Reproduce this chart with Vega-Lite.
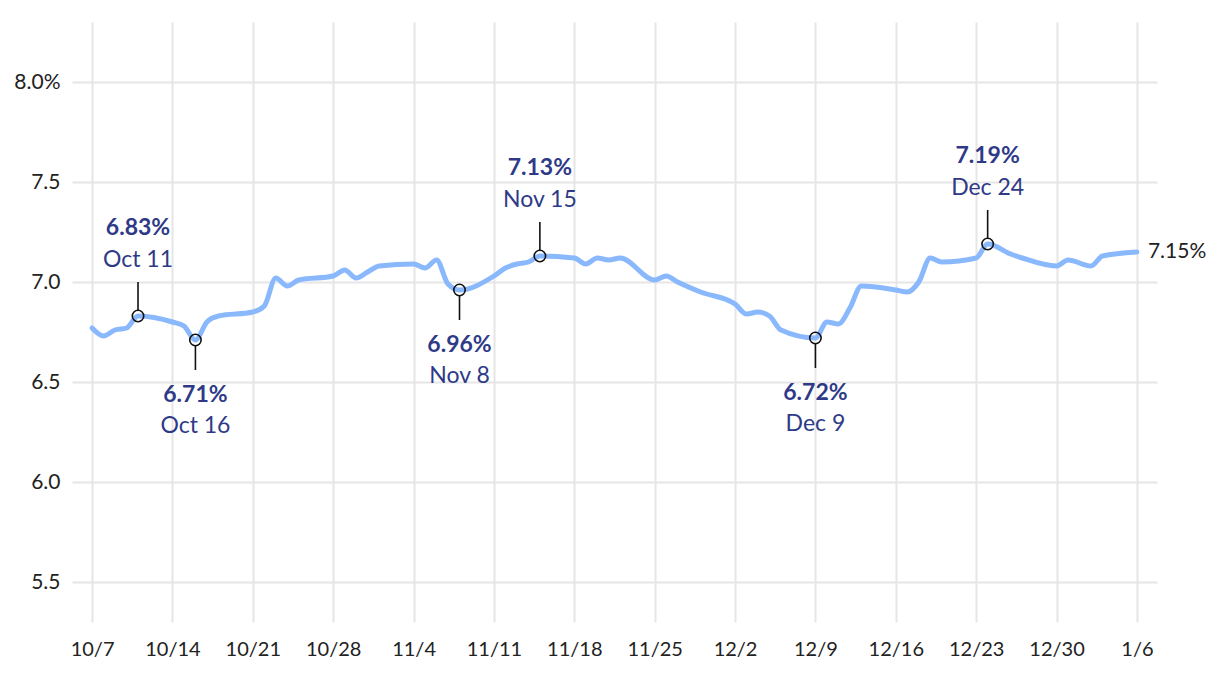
{
  "$schema": "https://vega.github.io/schema/vega-lite/v6.json",
  "width": 1085,
  "height": 600,
  "autosize": "none",
  "padding": {"left": 72, "top": 22, "right": 63, "bottom": 52},
  "config": {
    "view": {"stroke": null},
    "font": "Lato",
    "axis": {"labelFont": "Lato", "labelColor": "#222222", "labelFontSize": 20, "gridColor": "#e6e6e6", "gridWidth": 2, "domain": false, "ticks": false, "title": null}
  },
  "datasets": {
    "rates": [
      {"date": "2024-10-07", "rate": 6.77},
      {"date": "2024-10-08", "rate": 6.73},
      {"date": "2024-10-09", "rate": 6.76},
      {"date": "2024-10-10", "rate": 6.77},
      {"date": "2024-10-11", "rate": 6.83},
      {"date": "2024-10-14", "rate": 6.80},
      {"date": "2024-10-15", "rate": 6.78},
      {"date": "2024-10-16", "rate": 6.71},
      {"date": "2024-10-17", "rate": 6.80},
      {"date": "2024-10-18", "rate": 6.83},
      {"date": "2024-10-21", "rate": 6.85},
      {"date": "2024-10-22", "rate": 6.88},
      {"date": "2024-10-23", "rate": 7.02},
      {"date": "2024-10-24", "rate": 6.98},
      {"date": "2024-10-25", "rate": 7.01},
      {"date": "2024-10-28", "rate": 7.03},
      {"date": "2024-10-29", "rate": 7.06},
      {"date": "2024-10-30", "rate": 7.02},
      {"date": "2024-10-31", "rate": 7.05},
      {"date": "2024-11-01", "rate": 7.08},
      {"date": "2024-11-04", "rate": 7.09},
      {"date": "2024-11-05", "rate": 7.07},
      {"date": "2024-11-06", "rate": 7.11},
      {"date": "2024-11-07", "rate": 6.99},
      {"date": "2024-11-08", "rate": 6.96},
      {"date": "2024-11-11", "rate": 7.03},
      {"date": "2024-11-12", "rate": 7.07},
      {"date": "2024-11-13", "rate": 7.09},
      {"date": "2024-11-14", "rate": 7.10},
      {"date": "2024-11-15", "rate": 7.13},
      {"date": "2024-11-18", "rate": 7.12},
      {"date": "2024-11-19", "rate": 7.09},
      {"date": "2024-11-20", "rate": 7.12},
      {"date": "2024-11-21", "rate": 7.11},
      {"date": "2024-11-22", "rate": 7.12},
      {"date": "2024-11-25", "rate": 7.01},
      {"date": "2024-11-26", "rate": 7.03},
      {"date": "2024-11-27", "rate": 7.00},
      {"date": "2024-11-29", "rate": 6.95},
      {"date": "2024-12-02", "rate": 6.89},
      {"date": "2024-12-03", "rate": 6.84},
      {"date": "2024-12-04", "rate": 6.85},
      {"date": "2024-12-05", "rate": 6.83},
      {"date": "2024-12-06", "rate": 6.76},
      {"date": "2024-12-09", "rate": 6.72},
      {"date": "2024-12-10", "rate": 6.80},
      {"date": "2024-12-11", "rate": 6.79},
      {"date": "2024-12-12", "rate": 6.87},
      {"date": "2024-12-13", "rate": 6.98},
      {"date": "2024-12-16", "rate": 6.96},
      {"date": "2024-12-17", "rate": 6.95},
      {"date": "2024-12-18", "rate": 7.00},
      {"date": "2024-12-19", "rate": 7.12},
      {"date": "2024-12-20", "rate": 7.10},
      {"date": "2024-12-23", "rate": 7.12},
      {"date": "2024-12-24", "rate": 7.19},
      {"date": "2024-12-26", "rate": 7.14},
      {"date": "2024-12-27", "rate": 7.12},
      {"date": "2024-12-30", "rate": 7.08},
      {"date": "2024-12-31", "rate": 7.11},
      {"date": "2025-01-02", "rate": 7.08},
      {"date": "2025-01-03", "rate": 7.13},
      {"date": "2025-01-06", "rate": 7.15}
    ],
    "notes": [
      {"date": "2024-10-11", "rate": 6.83, "value": "6.83%", "day": "Oct 11", "pos": "above"},
      {"date": "2024-10-16", "rate": 6.71, "value": "6.71%", "day": "Oct 16", "pos": "below"},
      {"date": "2024-11-08", "rate": 6.96, "value": "6.96%", "day": "Nov 8", "pos": "below"},
      {"date": "2024-11-15", "rate": 7.13, "value": "7.13%", "day": "Nov 15", "pos": "above"},
      {"date": "2024-12-09", "rate": 6.72, "value": "6.72%", "day": "Dec 9", "pos": "below"},
      {"date": "2024-12-24", "rate": 7.19, "value": "7.19%", "day": "Dec 24", "pos": "above"},
      {"date": "2025-01-06", "rate": 7.15, "value": "7.15%", "day": "", "pos": "end"}
    ]
  },
  "encoding": {
    "x": {
      "field": "date", "type": "temporal",
      "scale": {"type": "utc", "nice": false, "domain": [
        {"year": 2024, "month": 10, "date": 5, "hours": 6, "utc": true},
        {"year": 2025, "month": 1, "date": 7, "hours": 18, "utc": true}
      ]},
      "axis": {
        "format": "%-m/%-d", "labelPadding": 17, "labelFontSize": 20,
        "values": [
          {"year": 2024, "month": 10, "date": 7, "utc": true},
          {"year": 2024, "month": 10, "date": 14, "utc": true},
          {"year": 2024, "month": 10, "date": 21, "utc": true},
          {"year": 2024, "month": 10, "date": 28, "utc": true},
          {"year": 2024, "month": 11, "date": 4, "utc": true},
          {"year": 2024, "month": 11, "date": 11, "utc": true},
          {"year": 2024, "month": 11, "date": 18, "utc": true},
          {"year": 2024, "month": 11, "date": 25, "utc": true},
          {"year": 2024, "month": 12, "date": 2, "utc": true},
          {"year": 2024, "month": 12, "date": 9, "utc": true},
          {"year": 2024, "month": 12, "date": 16, "utc": true},
          {"year": 2024, "month": 12, "date": 23, "utc": true},
          {"year": 2024, "month": 12, "date": 30, "utc": true},
          {"year": 2025, "month": 1, "date": 6, "utc": true}
        ]
      }
    },
    "y": {
      "field": "rate", "type": "quantitative",
      "scale": {"domain": [5.3, 8.3], "nice": false, "zero": false},
      "axis": {
        "values": [5.5, 6, 6.5, 7, 7.5, 8],
        "labelExpr": "datum.value == 8 ? '8.0%' : format(datum.value, '.1f')",
        "labelPadding": 12, "labelFontSize": 21
      }
    }
  },
  "layer": [
    {
      "data": {"name": "rates"},
      "mark": {"type": "line", "color": "#8ab8fd", "strokeWidth": 5, "interpolate": "monotone", "strokeCap": "round", "strokeJoin": "round"}
    },
    {
      "data": {"name": "notes"},
      "transform": [{"filter": "datum.pos == 'above'"}],
      "mark": {"type": "rule", "color": "#111111", "strokeWidth": 1.6, "yOffset": -6, "y2Offset": -34},
      "encoding": {"y2": {"field": "rate"}}
    },
    {
      "data": {"name": "notes"},
      "transform": [{"filter": "datum.pos == 'below'"}],
      "mark": {"type": "rule", "color": "#111111", "strokeWidth": 1.6, "yOffset": 6, "y2Offset": 30},
      "encoding": {"y2": {"field": "rate"}}
    },
    {
      "data": {"name": "notes"},
      "transform": [{"filter": "datum.pos != 'end'"}],
      "mark": {"type": "point", "shape": "circle", "size": 130, "filled": false, "stroke": "#111111", "strokeWidth": 1.6, "opacity": 1}
    },
    {
      "data": {"name": "notes"},
      "transform": [{"filter": "datum.pos == 'above'"}],
      "mark": {"type": "text", "font": "Lato", "fontSize": 23, "fontWeight": "bold", "color": "#2e3a87", "baseline": "middle", "dy": -88},
      "encoding": {"text": {"field": "value"}}
    },
    {
      "data": {"name": "notes"},
      "transform": [{"filter": "datum.pos == 'above'"}],
      "mark": {"type": "text", "font": "Lato", "fontSize": 23, "color": "#2e3a87", "baseline": "middle", "dy": -56},
      "encoding": {"text": {"field": "day"}}
    },
    {
      "data": {"name": "notes"},
      "transform": [{"filter": "datum.pos == 'below'"}],
      "mark": {"type": "text", "font": "Lato", "fontSize": 23, "fontWeight": "bold", "color": "#2e3a87", "baseline": "middle", "dy": 55},
      "encoding": {"text": {"field": "value"}}
    },
    {
      "data": {"name": "notes"},
      "transform": [{"filter": "datum.pos == 'below'"}],
      "mark": {"type": "text", "font": "Lato", "fontSize": 23, "color": "#2e3a87", "baseline": "middle", "dy": 86},
      "encoding": {"text": {"field": "day"}}
    },
    {
      "data": {"name": "notes"},
      "transform": [{"filter": "datum.pos == 'end'"}],
      "mark": {"type": "text", "font": "Lato", "fontSize": 21, "color": "#222222", "baseline": "middle", "align": "left", "dx": 11},
      "encoding": {"text": {"field": "value"}}
    }
  ]
}
